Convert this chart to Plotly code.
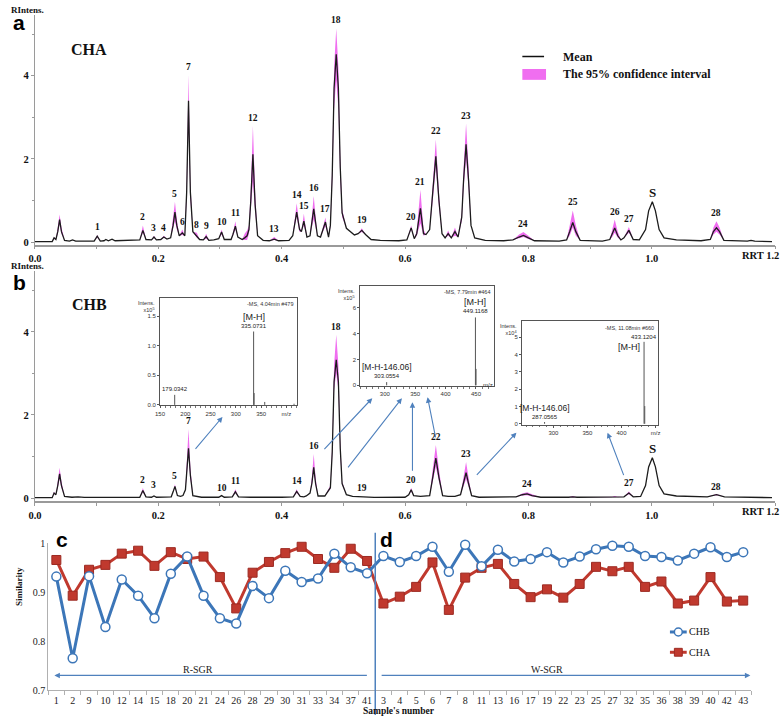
import plotly.graph_objects as go

W, H = 784, 721
SERIF = "Liberation Serif"
SANS = "Liberation Sans"
PINK = "#F06EF0"
BLUE = "#3C76B8"
RED = "#C0392E"
ARROWC = "#4F81BD"
AXC = "#9a9a9a"

# ---------------- Panel a: CHA (mean and 95% CI) ----------------
cha_rrt = [0.000, 0.028, 0.031, 0.034, 0.037, 0.040, 0.043, 0.048, 0.056, 0.061,
           0.066, 0.096, 0.101, 0.106, 0.112, 0.115, 0.119, 0.125, 0.130, 0.150,
           0.170, 0.175, 0.180, 0.189, 0.193, 0.197, 0.204, 0.209, 0.214, 0.220,
           0.224, 0.227, 0.230, 0.234, 0.239, 0.243, 0.246, 0.249, 0.252, 0.256,
           0.2625, 0.267, 0.273, 0.2776, 0.282, 0.290, 0.298, 0.3026, 0.307, 0.318,
           0.321, 0.325, 0.329, 0.336, 0.340, 0.344, 0.347, 0.350, 0.3534, 0.357,
           0.361, 0.370, 0.380, 0.388, 0.395, 0.412, 0.418, 0.4244, 0.429, 0.432,
           0.436, 0.441, 0.446, 0.452, 0.458, 0.463, 0.467, 0.471, 0.476, 0.479,
           0.482, 0.485, 0.4885, 0.492, 0.495, 0.498, 0.505, 0.512, 0.518, 0.524,
           0.530, 0.536, 0.545, 0.560, 0.590, 0.603, 0.610, 0.615, 0.619, 0.625,
           0.630, 0.634, 0.640, 0.645, 0.650, 0.655, 0.660, 0.665, 0.670, 0.675,
           0.681, 0.686, 0.692, 0.695, 0.699, 0.703, 0.707, 0.713, 0.730, 0.760,
           0.775, 0.785, 0.792, 0.800, 0.810, 0.850, 0.862, 0.867, 0.872, 0.877,
           0.884, 0.920, 0.932, 0.936, 0.940, 0.945, 0.950, 0.955, 0.963, 0.970,
           0.980, 0.990, 0.995, 1.001, 1.006, 1.012, 1.020, 1.040, 1.080, 1.095,
           1.100, 1.105, 1.110, 1.117, 1.155, 1.161, 1.167, 1.195]
cha_mean = [0.01, 0.01, 0.10, 0.06, 0.25, 0.54, 0.25, 0.04, 0.02, 0.05,
            0.02, 0.02, 0.14, 0.02, 0.03, 0.06, 0.03, 0.07, 0.03, 0.04,
            0.05, 0.28, 0.06, 0.05, 0.12, 0.05, 0.06, 0.12, 0.07, 0.10,
            0.40, 0.72, 0.40, 0.15, 0.22, 0.15, 1.20, 3.40, 1.20, 0.25,
            0.15, 0.06, 0.05, 0.13, 0.04, 0.05, 0.08, 0.24, 0.06, 0.06,
            0.18, 0.38, 0.12, 0.06, 0.10, 0.15, 0.30, 1.00, 2.11, 0.90,
            0.15, 0.04, 0.03, 0.07, 0.03, 0.04, 0.15, 0.72, 0.30, 0.25,
            0.50, 0.12, 0.15, 0.80, 0.15, 0.12, 0.30, 0.48, 0.12, 0.40,
            1.60, 3.70, 4.52, 3.70, 1.80, 0.70, 0.33, 0.25, 0.17, 0.20,
            0.28, 0.18, 0.06, 0.04, 0.03, 0.05, 0.34, 0.08, 0.20, 0.81,
            0.20, 0.18, 0.30, 1.20, 2.06, 1.00, 0.20, 0.10, 0.20, 0.10,
            0.25, 0.12, 0.60, 1.50, 2.35, 1.50, 0.40, 0.10, 0.04, 0.03,
            0.05, 0.12, 0.16, 0.10, 0.03, 0.02, 0.05, 0.25, 0.47, 0.25,
            0.04, 0.02, 0.06, 0.20, 0.34, 0.15, 0.05, 0.10, 0.28, 0.06,
            0.05, 0.30, 0.75, 0.97, 0.75, 0.30, 0.10, 0.05, 0.03, 0.06,
            0.25, 0.34, 0.25, 0.04, 0.02, 0.04, 0.02, 0.01]
cha_lo = [0.01, 0.01, 0.08, 0.05, 0.20, 0.42, 0.20, 0.04, 0.02, 0.05,
          0.02, 0.02, 0.11, 0.02, 0.03, 0.06, 0.03, 0.07, 0.03, 0.04,
          0.05, 0.22, 0.06, 0.05, 0.10, 0.05, 0.06, 0.10, 0.07, 0.10,
          0.30, 0.50, 0.30, 0.15, 0.17, 0.15, 1.00, 2.90, 1.00, 0.25,
          0.10, 0.06, 0.05, 0.08, 0.04, 0.05, 0.08, 0.18, 0.06, 0.06,
          0.15, 0.30, 0.12, 0.06, 0.05, 0.05, 0.20, 0.75, 1.45, 0.70,
          0.15, 0.04, 0.03, 0.05, 0.03, 0.04, 0.15, 0.60, 0.25, 0.25,
          0.40, 0.12, 0.15, 0.55, 0.15, 0.12, 0.25, 0.38, 0.12, 0.35,
          1.40, 3.20, 3.90, 3.20, 1.50, 0.60, 0.33, 0.25, 0.17, 0.20,
          0.24, 0.18, 0.06, 0.04, 0.03, 0.05, 0.30, 0.08, 0.15, 0.45,
          0.15, 0.18, 0.30, 1.00, 1.80, 0.85, 0.20, 0.10, 0.15, 0.10,
          0.15, 0.12, 0.50, 1.30, 2.00, 1.30, 0.40, 0.10, 0.04, 0.03,
          0.05, 0.09, 0.12, 0.07, 0.03, 0.02, 0.05, 0.15, 0.35, 0.15,
          0.04, 0.02, 0.06, 0.12, 0.22, 0.10, 0.05, 0.10, 0.22, 0.06,
          0.05, 0.30, 0.75, 0.97, 0.75, 0.30, 0.10, 0.05, 0.03, 0.06,
          0.18, 0.25, 0.18, 0.04, 0.02, 0.04, 0.02, 0.01]
cha_hi = [0.01, 0.01, 0.12, 0.07, 0.35, 0.66, 0.35, 0.04, 0.02, 0.05,
          0.02, 0.02, 0.17, 0.02, 0.03, 0.06, 0.03, 0.07, 0.03, 0.04,
          0.05, 0.40, 0.06, 0.05, 0.15, 0.05, 0.06, 0.15, 0.07, 0.10,
          0.55, 0.97, 0.55, 0.15, 0.30, 0.15, 1.45, 4.03, 1.45, 0.25,
          0.22, 0.06, 0.05, 0.20, 0.04, 0.05, 0.08, 0.30, 0.06, 0.06,
          0.22, 0.50, 0.12, 0.06, 0.20, 0.28, 0.40, 1.30, 2.80, 1.20,
          0.15, 0.04, 0.03, 0.12, 0.03, 0.04, 0.15, 0.93, 0.38, 0.25,
          0.68, 0.12, 0.15, 1.11, 0.15, 0.12, 0.36, 0.59, 0.12, 0.45,
          1.90, 4.20, 5.14, 4.20, 2.10, 0.80, 0.33, 0.25, 0.17, 0.20,
          0.33, 0.18, 0.06, 0.04, 0.03, 0.05, 0.40, 0.08, 0.28, 1.26,
          0.30, 0.18, 0.30, 1.40, 2.47, 1.20, 0.20, 0.10, 0.28, 0.10,
          0.35, 0.12, 0.70, 1.80, 2.85, 1.80, 0.40, 0.10, 0.04, 0.03,
          0.05, 0.18, 0.24, 0.15, 0.03, 0.02, 0.05, 0.40, 0.76, 0.40,
          0.04, 0.02, 0.06, 0.30, 0.54, 0.25, 0.05, 0.10, 0.36, 0.06,
          0.05, 0.30, 0.75, 0.97, 0.75, 0.30, 0.10, 0.05, 0.03, 0.06,
          0.35, 0.50, 0.35, 0.04, 0.02, 0.04, 0.02, 0.01]

cha_peak_ids = ["1", "2", "3", "4", "5", "6", "7", "8", "9", "10", "11", "12", "13", "14", "15",
                "16", "17", "18", "19", "20", "21", "22", "23", "24", "25", "26", "27", "S", "28"]
cha_peak_rrt = [0.101, 0.175, 0.193, 0.209, 0.227, 0.239, 0.249, 0.2625, 0.2776, 0.3026, 0.325,
                0.3534, 0.388, 0.4244, 0.436, 0.452, 0.471, 0.4885, 0.530, 0.610, 0.625, 0.650,
                0.699, 0.792, 0.872, 0.940, 0.963, 1.001, 1.105]
cha_peak_top = [0.17, 0.40, 0.15, 0.15, 0.97, 0.30, 4.03, 0.22, 0.20, 0.30, 0.50, 2.80, 0.12,
                0.93, 0.68, 1.11, 0.59, 5.14, 0.33, 0.40, 1.26, 2.47, 2.85, 0.24, 0.76, 0.54,
                0.36, 0.97, 0.50]

# ---------------- Panel b: CHB (mean and 95% CI) ----------------
chb_rrt = [0.000, 0.028, 0.031, 0.034, 0.037, 0.040, 0.043, 0.048, 0.060, 0.070,
           0.080, 0.120, 0.130, 0.140, 0.170, 0.175, 0.180, 0.189, 0.193, 0.197,
           0.221, 0.224, 0.227, 0.231, 0.236, 0.240, 0.244, 0.246, 0.249, 0.252,
           0.256, 0.270, 0.298, 0.3026, 0.307, 0.320, 0.325, 0.330, 0.350, 0.400,
           0.419, 0.4244, 0.430, 0.436, 0.440, 0.446, 0.449, 0.452, 0.455, 0.459,
           0.470, 0.479, 0.482, 0.485, 0.4885, 0.492, 0.495, 0.498, 0.505, 0.515,
           0.530, 0.550, 0.600, 0.606, 0.610, 0.614, 0.625, 0.640, 0.645, 0.650,
           0.655, 0.661, 0.670, 0.681, 0.690, 0.695, 0.699, 0.703, 0.708, 0.720,
           0.780, 0.790, 0.798, 0.806, 0.820, 0.865, 0.872, 0.879, 0.935, 0.940,
           0.945, 0.955, 0.963, 0.970, 0.982, 0.990, 0.995, 1.001, 1.006, 1.012,
           1.020, 1.040, 1.090, 1.105, 1.118, 1.161, 1.195]
chb_mean = [0.01, 0.01, 0.12, 0.08, 0.30, 0.58, 0.30, 0.04, 0.02, 0.03,
            0.015, 0.02, 0.03, 0.015, 0.02, 0.18, 0.03, 0.02, 0.05, 0.02,
            0.03, 0.15, 0.28, 0.06, 0.04, 0.06, 0.20, 0.60, 1.20, 0.55,
            0.06, 0.02, 0.02, 0.06, 0.02, 0.03, 0.15, 0.03, 0.02, 0.02,
            0.03, 0.16, 0.04, 0.03, 0.05, 0.12, 0.35, 0.74, 0.35, 0.05,
            0.05, 0.25, 1.10, 2.80, 3.33, 2.80, 1.20, 0.35, 0.08, 0.04,
            0.03, 0.015, 0.02, 0.08, 0.20, 0.06, 0.04, 0.06, 0.50, 0.96,
            0.50, 0.06, 0.04, 0.04, 0.08, 0.35, 0.61, 0.35, 0.06, 0.02,
            0.03, 0.08, 0.10, 0.06, 0.02, 0.02, 0.03, 0.02, 0.02, 0.03,
            0.02, 0.03, 0.12, 0.03, 0.04, 0.30, 0.75, 0.97, 0.75, 0.30,
            0.10, 0.05, 0.03, 0.08, 0.03, 0.02, 0.01]
chb_lo = [0.01, 0.01, 0.10, 0.08, 0.25, 0.45, 0.25, 0.04, 0.02, 0.03,
          0.015, 0.02, 0.03, 0.015, 0.02, 0.14, 0.03, 0.02, 0.05, 0.02,
          0.03, 0.15, 0.24, 0.06, 0.04, 0.06, 0.20, 0.50, 1.00, 0.45,
          0.06, 0.02, 0.02, 0.06, 0.02, 0.03, 0.12, 0.03, 0.02, 0.02,
          0.03, 0.12, 0.04, 0.03, 0.05, 0.12, 0.30, 0.60, 0.30, 0.05,
          0.05, 0.22, 1.00, 2.60, 3.00, 2.60, 1.05, 0.32, 0.08, 0.04,
          0.03, 0.015, 0.02, 0.08, 0.16, 0.06, 0.04, 0.06, 0.40, 0.75,
          0.40, 0.06, 0.04, 0.04, 0.08, 0.28, 0.45, 0.28, 0.06, 0.02,
          0.03, 0.06, 0.07, 0.04, 0.02, 0.02, 0.02, 0.02, 0.02, 0.02,
          0.02, 0.03, 0.09, 0.03, 0.04, 0.30, 0.75, 0.97, 0.75, 0.30,
          0.10, 0.05, 0.03, 0.07, 0.03, 0.02, 0.01]
chb_hi = [0.01, 0.01, 0.15, 0.08, 0.40, 0.73, 0.40, 0.04, 0.02, 0.03,
          0.015, 0.02, 0.03, 0.015, 0.02, 0.24, 0.03, 0.02, 0.05, 0.02,
          0.03, 0.15, 0.33, 0.06, 0.04, 0.06, 0.20, 0.80, 1.66, 0.75,
          0.06, 0.02, 0.02, 0.06, 0.02, 0.03, 0.21, 0.03, 0.02, 0.02,
          0.03, 0.21, 0.04, 0.03, 0.05, 0.12, 0.50, 1.06, 0.50, 0.05,
          0.05, 0.30, 1.30, 3.20, 3.93, 3.20, 1.40, 0.40, 0.08, 0.04,
          0.03, 0.015, 0.02, 0.08, 0.25, 0.06, 0.04, 0.06, 0.70, 1.28,
          0.70, 0.06, 0.04, 0.04, 0.08, 0.50, 0.87, 0.50, 0.06, 0.02,
          0.03, 0.11, 0.14, 0.09, 0.02, 0.02, 0.05, 0.02, 0.02, 0.05,
          0.02, 0.03, 0.16, 0.03, 0.04, 0.30, 0.75, 0.97, 0.75, 0.30,
          0.10, 0.05, 0.03, 0.10, 0.03, 0.02, 0.01]

chb_peak_ids = ["2", "3", "5", "7", "10", "11", "14", "16", "18", "19", "20", "22", "23", "24", "27", "S", "28"]
chb_peak_rrt = [0.175, 0.193, 0.227, 0.249, 0.3026, 0.325, 0.4244, 0.452, 0.4885, 0.530, 0.610,
                0.650, 0.699, 0.798, 0.963, 1.001, 1.105]
chb_peak_top = [0.24, 0.12, 0.33, 1.66, 0.06, 0.21, 0.21, 1.06, 3.93, 0.05, 0.25, 1.28, 0.87,
                0.14, 0.16, 0.97, 0.08]

rrt_ticks = [0.0, 0.2, 0.4, 0.6, 0.8, 1.0, 1.2]
rrt_ticktext = ["0.0", "0.2", "0.4", "0.6", "0.8", "1.0", ""]
rrt_minor = [0.1, 0.3, 0.5, 0.7, 0.9, 1.1]
int_ticks = [0, 2, 4]

# ---------------- MS insets ----------------
ms1_mz = [179.0342, 335.0731, 336.08, 357.05, 415.0]
ms1_int = [0.17, 1.24, 0.20, 0.05, 0.02]
ms2_mz = [303.0554, 449.1168, 450.12]
ms2_int = [0.25, 5.24, 1.27]
ms3_mz = [287.0565, 433.1204, 434.12]
ms3_int = [0.10, 4.73, 1.02]

# ---------------- Panels c/d: similarity ----------------
samples = ["1", "2", "9", "10", "12", "14", "15", "18", "20", "21", "24", "26", "28", "29", "30",
           "31", "33", "34", "37", "41",
           "3", "4", "5", "6", "7", "8", "11", "13", "16", "17", "19", "22", "23", "25", "27",
           "32", "35", "36", "38", "39", "40", "42", "43"]
sim_chb = [0.932, 0.765, 0.933, 0.829, 0.926, 0.893, 0.847, 0.938, 0.973, 0.893, 0.847, 0.836,
           0.913, 0.888, 0.944, 0.921, 0.928, 0.979, 0.951, 0.939,
           0.974, 0.962, 0.974, 0.993, 0.942, 0.997, 0.953, 0.987, 0.963, 0.968, 0.982, 0.961,
           0.973, 0.988, 0.995, 0.993, 0.974, 0.972, 0.965, 0.979, 0.992, 0.972, 0.982]
sim_cha = [0.966, 0.893, 0.946, 0.956, 0.979, 0.985, 0.954, 0.982, 0.968, 0.973, 0.931, 0.867,
           0.940, 0.962, 0.980, 0.993, 0.968, 0.950, 0.989, 0.964,
           0.877, 0.891, 0.911, 0.961, 0.864, 0.930, 0.950, 0.958, 0.917, 0.890, 0.906, 0.889,
           0.917, 0.952, 0.943, 0.952, 0.911, 0.922, 0.877, 0.883, 0.931, 0.881, 0.883]
sim_ticks = [0.7, 0.8, 0.9, 1.0]
sim_ticktext = ["0.7", "0.8", "0.9", "1"]


def px(x):
    return x / W


def py(y):
    return 1 - y / H


fig = go.Figure()


def chromatogram(x, mean, lo, hi, xa, ya):
    fig.add_trace(go.Scatter(x=x, y=lo, xaxis=xa, yaxis=ya, mode="lines",
                             line=dict(width=0, color=PINK), hoverinfo="skip"))
    fig.add_trace(go.Scatter(x=x, y=hi, xaxis=xa, yaxis=ya, mode="lines",
                             line=dict(width=0, color=PINK), fill="tonexty",
                             fillcolor=PINK, hoverinfo="skip"))
    fig.add_trace(go.Scatter(x=x, y=mean, xaxis=xa, yaxis=ya, mode="lines",
                             line=dict(width=1.3, color="#1c1c1c")))


chromatogram(cha_rrt, cha_mean, cha_lo, cha_hi, "x", "y")
chromatogram(chb_rrt, chb_mean, chb_lo, chb_hi, "x2", "y2")


def sticks(mz, inten, xa, ya):
    xs, ys = [], []
    for m, h in zip(mz, inten):
        xs += [m, m, None]
        ys += [0, h, None]
    fig.add_trace(go.Scatter(x=xs, y=ys, xaxis=xa, yaxis=ya, mode="lines",
                             line=dict(width=1, color="#555555"), hoverinfo="skip"))


sticks(ms1_mz, ms1_int, "x4", "y4")
sticks(ms2_mz, ms2_int, "x5", "y5")
sticks(ms3_mz, ms3_int, "x6", "y6")

fig.add_trace(go.Scatter(x=samples, y=sim_cha, xaxis="x3", yaxis="y3", mode="lines+markers",
                         line=dict(color=RED, width=3), cliponaxis=False,
                         marker=dict(symbol="square", size=9, color=RED,
                                     line=dict(color="#9c2a22", width=1))))
fig.add_trace(go.Scatter(x=samples, y=sim_chb, xaxis="x3", yaxis="y3", mode="lines+markers",
                         line=dict(color=BLUE, width=3), cliponaxis=False,
                         marker=dict(symbol="circle", size=9, color="white",
                                     line=dict(color=BLUE, width=1.5))))

ann = []
shapes = []

# peak labels
for ids, rr, tp, xr, yr in [(cha_peak_ids, cha_peak_rrt, cha_peak_top, "x", "y"),
                            (chb_peak_ids, chb_peak_rrt, chb_peak_top, "x2", "y2")]:
    for i, r, t in zip(ids, rr, tp):
        big = i == "S"
        ann.append(dict(x=r, y=t, xref=xr, yref=yr, text="<b>%s</b>" % i, showarrow=False,
                        yanchor="bottom", yshift=0 if big else 1,
                        font=dict(family=SERIF, size=13 if big else 9.5, color="#111")))


def txt(x, y, text, size, family=SERIF, xanchor="left", yanchor="middle", color="#111", **kw):
    ann.append(dict(x=px(x), y=py(y), xref="paper", yref="paper", text=text, showarrow=False,
                    xanchor=xanchor, yanchor=yanchor,
                    font=dict(family=family, size=size, color=color), **kw))


txt(2, 5, "<b>RIntens.</b>", 9)
txt(2, 265, "<b>RIntens.</b>", 9)
txt(4, 18, "<b>a</b>", 21, family=SANS, color="#000")
txt(4, 282, "<b>b</b>", 21, family=SANS, color="#000")
txt(83, 45, "<b>CHA</b>", 16, xanchor="center")
txt(84, 304, "<b>CHB</b>", 16, xanchor="center")
txt(784, 254, "<b>RRT 1.2</b>", 10.5, xanchor="right")
txt(784, 514, "<b>RRT 1.2</b>", 10.5, xanchor="right")

# legend panel a
shapes.append(dict(type="line", xref="paper", yref="paper", x0=px(522), x1=px(544),
                   y0=py(52.3), y1=py(52.3), line=dict(color="#111", width=1.5)))
shapes.append(dict(type="rect", xref="paper", yref="paper", x0=px(522), x1=px(546),
                   y0=py(76), y1=py(65), fillcolor=PINK, line=dict(width=0)))
txt(561, 52.3, "<b>Mean</b>", 12)
txt(561, 70.5, "<b>The 95% confidence interval</b>", 12)

# insets
insets = [("x4", "y4", "-MS, 4.04min #479", "x10<sup>5</sup>"),
          ("x5", "y5", "-MS, 7.79min #464", "x10<sup>5</sup>"),
          ("x6", "y6", "-MS, 11.08min #660", "x10<sup>4</sup>")]
for xa, ya, head, mult in insets:
    ann.append(dict(x=0.985, y=0.985, xref=xa + " domain", yref=ya + " domain", text=head,
                    showarrow=False, xanchor="right", yanchor="top",
                    font=dict(family=SANS, size=5.5, color="#333")))
    ann.append(dict(x=-0.02, y=1.0, xref=xa + " domain", yref=ya + " domain",
                    text="Intens.<br>" + mult, showarrow=False, xanchor="right", yanchor="top",
                    align="right", font=dict(family=SANS, size=5.5, color="#333")))


def ms_label(x, y, xa, ya, text, size, yshift, xanchor="center", yanchor="bottom", xshift=0):
    ann.append(dict(x=x, y=y, xref=xa, yref=ya, text=text, showarrow=False, xanchor=xanchor,
                    yanchor=yanchor, yshift=yshift, xshift=xshift,
                    font=dict(family=SANS, size=size, color="#222")))


ms_label(ms1_mz[1], ms1_int[1], "x4", "y4", "335.0731", 6, 1)
ms_label(ms1_mz[1], ms1_int[1], "x4", "y4", "[M-H]", 9, 8)
ms_label(ms1_mz[0], ms1_int[0], "x4", "y4", "179.0342", 6, 1)
ms_label(ms2_mz[1], ms2_int[1], "x5", "y5", "449.1168", 6, 1)
ms_label(ms2_mz[1], ms2_int[1], "x5", "y5", "[M-H]", 9, 8)
ms_label(ms2_mz[0], ms2_int[0], "x5", "y5", "303.0554", 6, 1)
ms_label(ms2_mz[0], ms2_int[0], "x5", "y5", "[M-H-146.06]", 8.5, 8)
ms_label(ms3_mz[1], ms3_int[1], "x6", "y6", "433.1204", 6, 0)
ms_label(ms3_mz[1], ms3_int[1], "x6", "y6", "[M-H]", 9, -5, xanchor="right", yanchor="middle",
         xshift=-2)
ms_label(ms3_mz[0], ms3_int[0], "x6", "y6", "287.0565", 6, 0)
ms_label(ms3_mz[0], ms3_int[0], "x6", "y6", "[M-H-146.06]", 8.5, 7)
txt(487, 386, "m/z", 6, family=SANS, xanchor="center", color="#333")

# arrows in panel b (tail -> tip, pixel positions)
arrow_pairs = [((190, 451.7), (218.3, 418.3)),
               ((320.7, 451.7), (370, 399.3)),
               ((345, 470), (400, 399.3)),
               ((410.7, 473.3), (410.7, 403.3)),
               ((434.3, 440), (426, 398.3)),
               ((475, 478), (516, 434.3)),
               ((625, 478.3), (608.3, 434.3))]
for (tx, ty), (hx, hy) in arrow_pairs:
    ann.append(dict(x=px(hx), y=py(hy), xref="paper", yref="paper", ax=tx - hx, ay=ty - hy,
                    axref="pixel", ayref="pixel", text="", showarrow=True, arrowhead=2,
                    arrowsize=1, arrowwidth=1.1, arrowcolor=ARROWC, standoff=0))

# panel c/d decorations
shapes.append(dict(type="line", xref="x3", yref="paper", x0=19.5, x1=19.5, y0=0, y1=py(536),
                   line=dict(color=ARROWC, width=1.5)))
ann.append(dict(x=-0.12, y=0.730, xref="x3", yref="y3", ax=19.08, ay=0.730, axref="x3",
                ayref="y3", text="", showarrow=True, arrowhead=2, arrowsize=1, arrowwidth=1.1,
                arrowcolor=ARROWC, standoff=0, startstandoff=0))
ann.append(dict(x=42.44, y=0.730, xref="x3", yref="y3", ax=19.8, ay=0.730, axref="x3",
                ayref="y3", text="", showarrow=True, arrowhead=2, arrowsize=1, arrowwidth=1.1,
                arrowcolor=ARROWC, standoff=0, startstandoff=0))
ann.append(dict(x=8.64, y=0.742, xref="x3", yref="y3", text="R-SGR", showarrow=False,
                font=dict(family=SERIF, size=10, color="#222")))
ann.append(dict(x=30.0, y=0.742, xref="x3", yref="y3", text="W-SGR", showarrow=False,
                font=dict(family=SERIF, size=10, color="#222")))
txt(48, 543, "<b>c</b>", 21, family=SANS, color="#000")
txt(376, 543, "<b>d</b>", 21, family=SANS, color="#000")
ann.append(dict(x=px(5), y=py(612), xref="paper", yref="paper", text="<b>Similarity</b>",
                showarrow=False, textangle=-90,
                font=dict(family=SERIF, size=9, color="#111")))
txt(397, 716.5, "<b>Sample's number</b>", 9.5, xanchor="center")

# legend panel c/d
shapes.append(dict(type="line", xref="paper", yref="paper", x0=px(671.5), x1=px(688.5),
                   y0=py(636.7), y1=py(636.7), line=dict(color=BLUE, width=3)))
shapes.append(dict(type="circle", xref="paper", yref="paper", x0=px(676), x1=px(684),
                   y0=py(640.7), y1=py(632.7), fillcolor="white", line=dict(color=BLUE, width=1.5)))
shapes.append(dict(type="line", xref="paper", yref="paper", x0=px(671.5), x1=px(688.5),
                   y0=py(657.3), y1=py(657.3), line=dict(color=RED, width=3)))
shapes.append(dict(type="rect", xref="paper", yref="paper", x0=px(676), x1=px(684),
                   y0=py(661.3), y1=py(653.3), fillcolor=RED, line=dict(color="#9c2a22", width=1)))
txt(689, 636.7, "CHB", 10)
txt(689, 657.3, "CHA", 10)


def chrom_x(anchor):
    return dict(domain=[px(28.3), px(778)], range=[0, 1.2], anchor=anchor,
                showline=True, linecolor=AXC, linewidth=1.5, ticks="outside", ticklen=3,
                tickcolor=AXC, tickvals=rrt_ticks,
                ticktext=["<b>%s</b>" % t if t else "" for t in rrt_ticktext],
                tickfont=dict(family=SERIF, size=10.5, color="#111"),
                minor=dict(tickvals=rrt_minor, ticks="outside", ticklen=3, tickcolor=AXC),
                showgrid=False, zeroline=False)


def chrom_y(domain, rng, anchor):
    return dict(domain=domain, range=rng, anchor=anchor, showline=True, linecolor=AXC,
                linewidth=1.2, ticks="outside", ticklen=3, tickcolor=AXC, tickvals=int_ticks,
                ticktext=["<b>%d</b>" % v for v in int_ticks],
                tickfont=dict(family=SERIF, size=10.5, color="#111"),
                minor=dict(tickvals=[1, 3, 5], ticks="outside", ticklen=2, tickcolor=AXC),
                showgrid=False, zeroline=False)


def inset_x(domain, rng, anchor, tv, tt):
    return dict(domain=domain, range=rng, anchor=anchor, showline=True, mirror=True,
                linecolor="#555", linewidth=0.8, ticks="outside", ticklen=2, tickcolor="#555",
                tickvals=tv, ticktext=tt, tickfont=dict(family=SANS, size=6, color="#333"),
                minor=dict(dtick=10, ticks="outside", ticklen=1.5, tickcolor="#777"),
                showgrid=False, zeroline=False)


def inset_y(domain, rng, anchor, tv, tt):
    return dict(domain=domain, range=rng, anchor=anchor, showline=True, mirror=True,
                linecolor="#555", linewidth=0.8, ticks="outside", ticklen=2, tickcolor="#555",
                tickvals=tv, ticktext=tt, tickfont=dict(family=SANS, size=6, color="#333"),
                showgrid=False, zeroline=False)


fig.update_layout(
    width=W, height=H, margin=dict(l=0, r=0, t=0, b=0),
    paper_bgcolor="white", plot_bgcolor="rgba(0,0,0,0)", showlegend=False,
    xaxis=chrom_x("y"),
    yaxis=chrom_y([py(243.3), py(10)], [-0.062, 5.467], "x"),
    xaxis2=chrom_x("y2"),
    yaxis2=chrom_y([py(504), py(270)], [-0.078, 5.467], "x2"),
    xaxis3=dict(domain=[px(41.7), px(754)], type="category", categoryorder="array",
                categoryarray=samples, range=[-0.5, 42.5], anchor="y3", showline=True,
                linecolor="#b0b0b0", linewidth=1, ticks="outside", tickson="boundaries",
                ticklen=4, tickcolor="#b0b0b0", tickangle=0, ticklabelstandoff=1,
                tickfont=dict(family=SERIF, size=10, color="#222"), showgrid=False,
                zeroline=False),
    yaxis3=dict(domain=[py(695.7), py(546.7)], range=[0.7, 1.0], anchor="x3", showline=True,
                linecolor="#b0b0b0", linewidth=1, ticks="", tickvals=sim_ticks,
                ticktext=sim_ticktext, tickfont=dict(family=SERIF, size=10, color="#222"),
                showgrid=False, zeroline=False),
    xaxis4=inset_x([px(155), px(293.3)], [150, 420], "y4", [150, 200, 250, 300, 350, 400],
                   ["150", "200", "250", "300", "350", "m/z"]),
    yaxis4=inset_y([py(406.7), py(297.3)], [-0.01, 1.81], "x4", [0, 0.5, 1.0, 1.5],
                   ["0.0", "0.5", "1.0", "1.5"]),
    xaxis5=inset_x([px(357.7), px(493.3)], [259.4, 479.7], "y5", [300, 350, 400, 450],
                   ["300", "350", "400", "450"]),
    yaxis5=inset_y([py(387.3), py(285.3)], [-0.08, 7.67], "x5", [0, 2, 4, 6],
                   ["0", "2", "4", "6"]),
    xaxis6=inset_x([px(521.7), px(659)], [254, 453], "y6", [300, 350, 400, 450],
                   ["300", "350", "400", "m/z"]),
    yaxis6=inset_y([py(426.3), py(321.3)], [-0.06, 5.91], "x6", [0, 1, 2, 3, 4, 5],
                   ["0", "1", "2", "3", "4", "5"]),
    annotations=ann,
    shapes=shapes,
)

fig.write_html("out.html", config={"displayModeBar": False},
               post_script="document.body.style.margin='0';document.body.style.overflow='hidden';")
